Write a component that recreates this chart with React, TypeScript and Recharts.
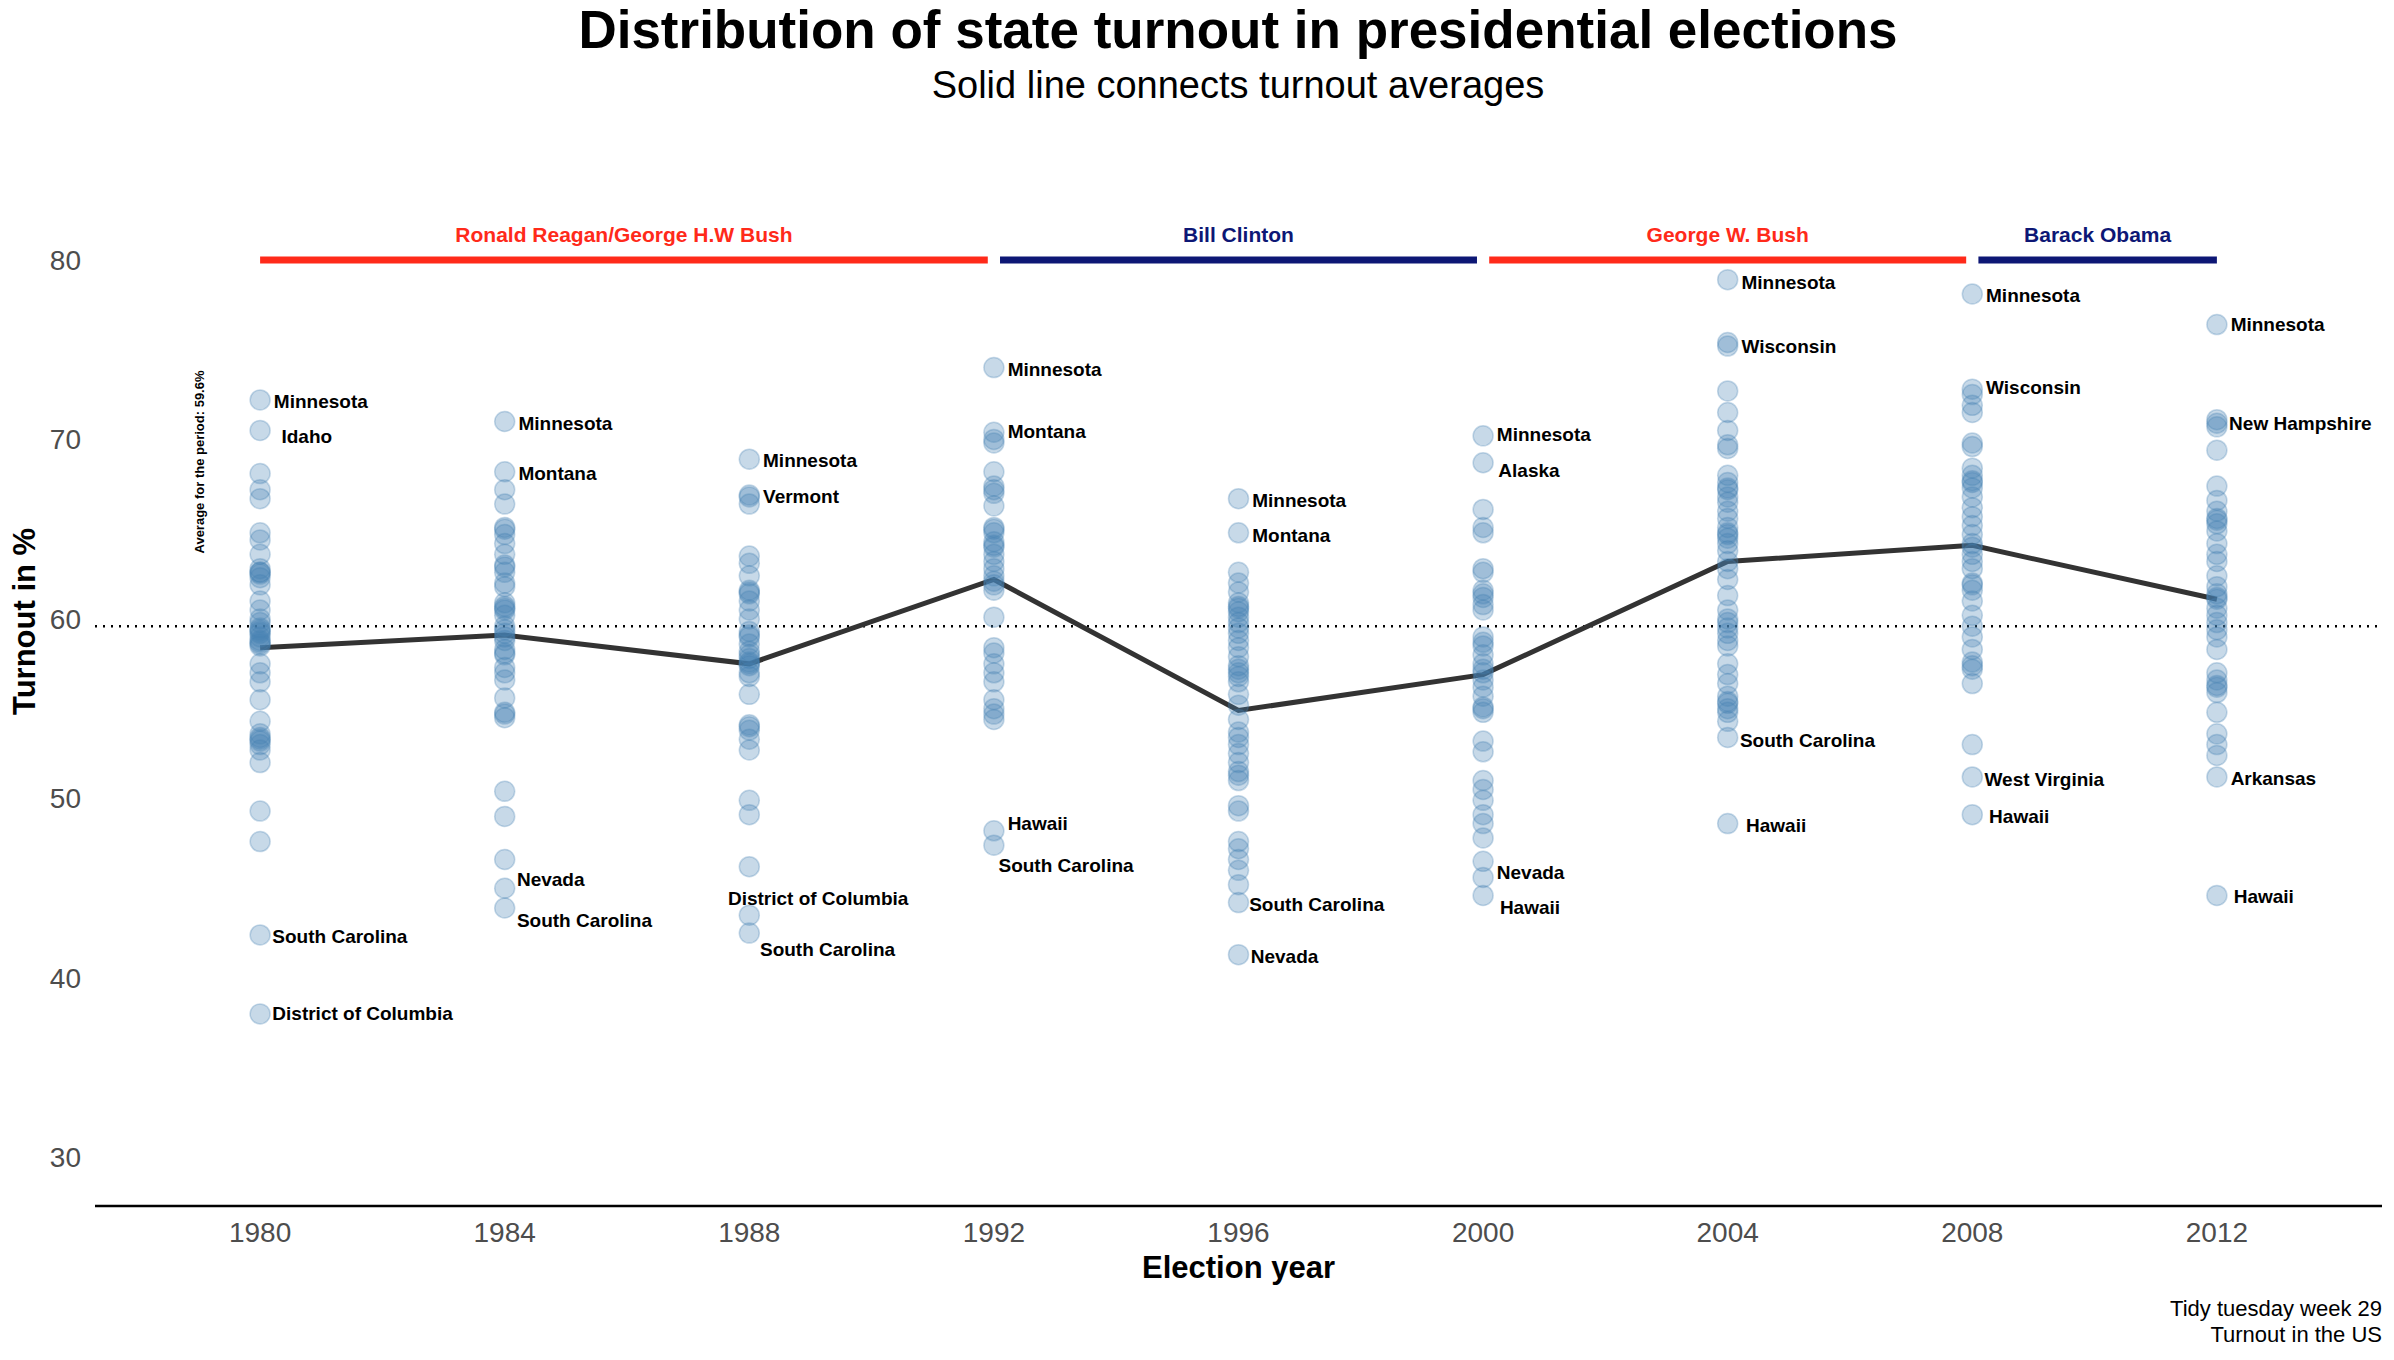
import React from 'react';
import { ComposedChart, Scatter, Line, XAxis, YAxis, ReferenceLine } from 'recharts';

document.body.style.margin = '0';

const YEARS = [1980, 1984, 1988, 1992, 1996, 2000, 2004, 2008, 2012];
const AVERAGES = [58.4, 59.1, 57.5, 62.2, 54.9, 56.9, 63.2, 64.1, 61.1];
const PERIOD_AVG = 59.6;

const T1980 = [68.1, 67.2, 66.7, 64.8, 64.4, 63.6, 62.8, 62.5, 62.3, 62.6, 61.9, 61.0, 60.5, 59.8, 59.5, 59.2, 59.4, 59.0, 58.7, 58.5, 58.8, 57.5, 57.0, 56.5, 55.5, 54.3, 53.6, 53.3, 53.0, 52.7, 53.2, 52.0, 49.3, 47.6, 62.6, 59.3, 58.6, 60.0, 53.4];
const T1984 = [67.2, 66.4, 65.1, 64.7, 64.2, 63.6, 63.0, 62.6, 62.9, 61.8, 60.9, 60.6, 60.7, 60.2, 59.6, 59.2, 59.4, 58.8, 58.3, 58.1, 57.3, 56.6, 55.6, 54.8, 54.5, 54.7, 50.4, 49.0, 46.6, 60.5, 58.0, 62.0, 65.0, 59.0, 57.0];
const T1988 = [66.9, 66.4, 63.5, 63.1, 62.4, 61.5, 61.4, 61.0, 60.5, 60.0, 59.3, 59.0, 58.6, 58.0, 57.8, 57.6, 57.4, 57.0, 56.8, 55.8, 54.1, 53.8, 53.3, 52.7, 49.9, 49.1, 46.2, 61.6, 58.2, 57.5, 54.0, 59.1];
const T1992 = [70.4, 69.8, 68.2, 67.4, 67.0, 66.3, 65.1, 64.8, 64.3, 64.0, 63.6, 63.2, 62.8, 62.4, 61.9, 61.6, 60.1, 58.4, 58.1, 57.5, 57.0, 56.5, 55.5, 55.0, 54.7, 54.4, 67.2, 64.1, 62.1, 65.0];
const T1996 = [62.6, 62.0, 61.5, 60.9, 60.6, 60.4, 60.1, 59.8, 59.5, 59.2, 58.8, 58.4, 57.9, 57.4, 57.0, 56.8, 56.5, 55.8, 55.2, 54.4, 53.7, 53.0, 52.5, 52.0, 51.5, 51.0, 49.6, 49.3, 47.6, 47.2, 46.6, 46.0, 45.2, 60.7, 57.2, 53.4, 51.3];
const T2000 = [66.1, 65.1, 64.8, 62.8, 62.6, 61.6, 61.2, 60.8, 60.5, 59.0, 58.7, 58.5, 58.0, 57.5, 57.0, 56.6, 56.2, 55.7, 55.1, 54.8, 53.2, 52.6, 51.0, 50.5, 49.9, 49.1, 48.6, 47.8, 46.5, 61.4, 57.2, 55.0];
const T2004 = [75.4, 72.7, 71.5, 70.5, 69.7, 69.5, 68.0, 67.6, 67.2, 66.8, 66.5, 66.0, 65.6, 65.1, 64.7, 64.5, 64.2, 63.8, 63.2, 62.8, 62.2, 61.3, 60.5, 60.0, 59.5, 59.2, 58.8, 58.5, 57.5, 56.9, 56.4, 55.7, 55.3, 55.0, 54.8, 54.3, 67.3, 64.8, 59.8, 55.4];
const T2008 = [72.5, 71.9, 71.5, 69.8, 69.6, 68.4, 68.0, 67.7, 67.3, 66.8, 66.2, 65.7, 65.2, 64.7, 64.2, 63.6, 63.2, 62.8, 62.0, 61.6, 61.0, 60.2, 59.6, 59.0, 58.3, 57.6, 57.2, 56.4, 53.0, 67.6, 64.0, 61.9, 57.4];
const T2012 = [70.7, 69.4, 67.4, 66.6, 66.0, 65.6, 65.3, 64.9, 64.2, 63.6, 63.2, 62.4, 61.8, 61.4, 61.1, 60.6, 60.2, 59.8, 59.4, 59.0, 58.3, 57.0, 56.6, 56.2, 55.9, 54.8, 53.6, 53.0, 52.4, 65.5, 61.2, 56.3, 71.1];
const TURNOUT = [T1980, T1984, T1988, T1992, T1996, T2000, T2004, T2008, T2012];

// [year, turnout, state, text dx, text dy]
const LABELS: [number, number, string, number, number][] = [
  [1980, 72.2, 'Minnesota', 9, 1], [1980, 70.5, 'Idaho', 14, 4], [1980, 42.4, 'South Carolina', 8, 1], [1980, 38.0, 'District of Columbia', 8, 0],
  [1984, 71.0, 'Minnesota', 9, 1], [1984, 68.2, 'Montana', 9, 1], [1984, 45.0, 'Nevada', 8, -6], [1984, 43.9, 'South Carolina', 8, 8],
  [1988, 68.9, 'Minnesota', 9, 1], [1988, 66.8, 'Vermont', 9, 0], [1988, 43.5, 'District of Columbia', -14, -11], [1988, 42.5, 'South Carolina', 7, 11],
  [1992, 74.0, 'Minnesota', 9, 1], [1992, 70.0, 'Montana', 9, -5], [1992, 48.2, 'Hawaii', 9, -5], [1992, 47.4, 'South Carolina', 3, 13],
  [1996, 66.7, 'Minnesota', 9, 1], [1996, 64.8, 'Montana', 9, 2], [1996, 44.2, 'South Carolina', 7, 1], [1996, 41.3, 'Nevada', 8, 1],
  [2000, 70.2, 'Minnesota', 9, -1], [2000, 68.7, 'Alaska', 10, 5], [2000, 45.6, 'Nevada', 9, -3], [2000, 44.6, 'Hawaii', 11, 8],
  [2004, 78.9, 'Minnesota', 9, 2], [2004, 75.2, 'Wisconsin', 9, 0], [2004, 53.4, 'South Carolina', 8, 2], [2004, 48.6, 'Hawaii', 12, 1],
  [2008, 78.1, 'Minnesota', 9, 1], [2008, 72.8, 'Wisconsin', 9, -1], [2008, 51.2, 'West Virginia', 8, 2], [2008, 49.1, 'Hawaii', 11, 1],
  [2012, 76.4, 'Minnesota', 9, 0], [2012, 70.9, 'New Hampshire', 8, 0], [2012, 51.2, 'Arkansas', 9, 1], [2012, 44.6, 'Hawaii', 11, 1],
];

// [president, from, to, colour]
const TERMS: [string, number, number, string][] = [
  ['Ronald Reagan/George H.W Bush', 1980, 1991.9, '#ff2a1a'],
  ['Bill Clinton', 1992.1, 1999.9, '#0d1775'],
  ['George W. Bush', 2000.1, 2007.9, '#ff2a1a'],
  ['Barack Obama', 2008.1, 2012, '#0d1775'],
];

const S = 1.527;
const FONT = '"Liberation Sans", Arial, sans-serif';

const points = [
  ...YEARS.flatMap((year, i) => TURNOUT[i].map((v) => ({ year, v }))),
  ...LABELS.map(([year, v, label, dx, dy]) => ({ year, v, label, dx, dy })),
];
const avgData = YEARS.map((year, i) => ({ year, avg: AVERAGES[i] }));

const Dot = (props: any) => {
  const { cx, cy, payload } = props;
  return (
    <g>
      <circle cx={cx} cy={cy} r={10} fill="#4682b4" fillOpacity={0.3} stroke="#4682b4" strokeOpacity={0.3} strokeWidth={1.5} />
      {payload.label && (
        <text x={cx + payload.dx * S} y={cy + payload.dy * S} dominantBaseline="central" fontSize={19} fontWeight="bold" fontFamily={FONT} fill="#000">
          {payload.label}
        </text>
      )}
    </g>
  );
};

export default function App() {
  return (
    <div style={{ position: 'relative', width: 2394, height: 1360, background: '#fff', fontFamily: FONT }}>
      <ComposedChart width={2394} height={1360} margin={{ top: 224, right: 12, left: 0, bottom: 84 }}>
        <XAxis
          dataKey="year"
          type="number"
          domain={[1977.3, 2014.7]}
          ticks={YEARS}
          allowDuplicatedCategory={false}
          tickLine={false}
          tickSize={0}
          tickMargin={16}
          axisLine={{ stroke: '#000', strokeWidth: 2.5 }}
          tick={{ fontSize: 28, fill: '#4d4d4d', fontFamily: FONT }}
          height={70}
          label={{ value: 'Election year', position: 'insideBottom', offset: -2, fontSize: 31, fontWeight: 'bold', fill: '#000', fontFamily: FONT }}
        />
        <YAxis
          dataKey="v"
          type="number"
          domain={[27.3, 82]}
          ticks={[30, 40, 50, 60, 70, 80]}
          allowDataOverflow
          axisLine={false}
          tickLine={false}
          tickSize={0}
          tickMargin={14}
          width={95}
          tick={{ fontSize: 28, fill: '#4d4d4d', fontFamily: FONT }}
          label={{ value: 'Turnout in %', angle: -90, position: 'insideLeft', offset: 24, fontSize: 31, fontWeight: 'bold', fill: '#000', fontFamily: FONT }}
        />
        <ReferenceLine y={PERIOD_AVG} stroke="#000" strokeWidth={2.5} strokeDasharray="2 6" />
        {TERMS.map(([name, from, to, color]) => (
          <ReferenceLine
            key={name}
            segment={[{ x: from, y: 80 }, { x: to, y: 80 }]}
            stroke={color}
            strokeWidth={7}
            ifOverflow="visible"
            label={{ value: name, position: 'top', offset: 18, fill: color, fontSize: 21, fontWeight: 'bold', fontFamily: FONT }}
          />
        ))}
        <Scatter data={points} dataKey="v" shape={Dot} isAnimationActive={false} />
        <Line data={avgData} dataKey="avg" stroke="#333" strokeWidth={5} dot={false} isAnimationActive={false} />
      </ComposedChart>
      <svg width={2394} height={1360} style={{ position: 'absolute', left: 0, top: 0, pointerEvents: 'none' }}>
        <text x={1238} y={48} textAnchor="middle" fontSize={53} fontWeight="bold" fontFamily={FONT}>Distribution of state turnout in presidential elections</text>
        <text x={1238} y={98} textAnchor="middle" fontSize={38} fontFamily={FONT}>Solid line connects turnout averages</text>
        <text transform="translate(204,462) rotate(-90)" textAnchor="middle" fontSize={13} fontWeight="bold" fontFamily={FONT}>Average for the period: 59.6%</text>
        <text x={2382} y={1316} textAnchor="end" fontSize={22} fontFamily={FONT}>Tidy tuesday week 29</text>
        <text x={2382} y={1342} textAnchor="end" fontSize={22} fontFamily={FONT}>Turnout in the US</text>
      </svg>
    </div>
  );
}
